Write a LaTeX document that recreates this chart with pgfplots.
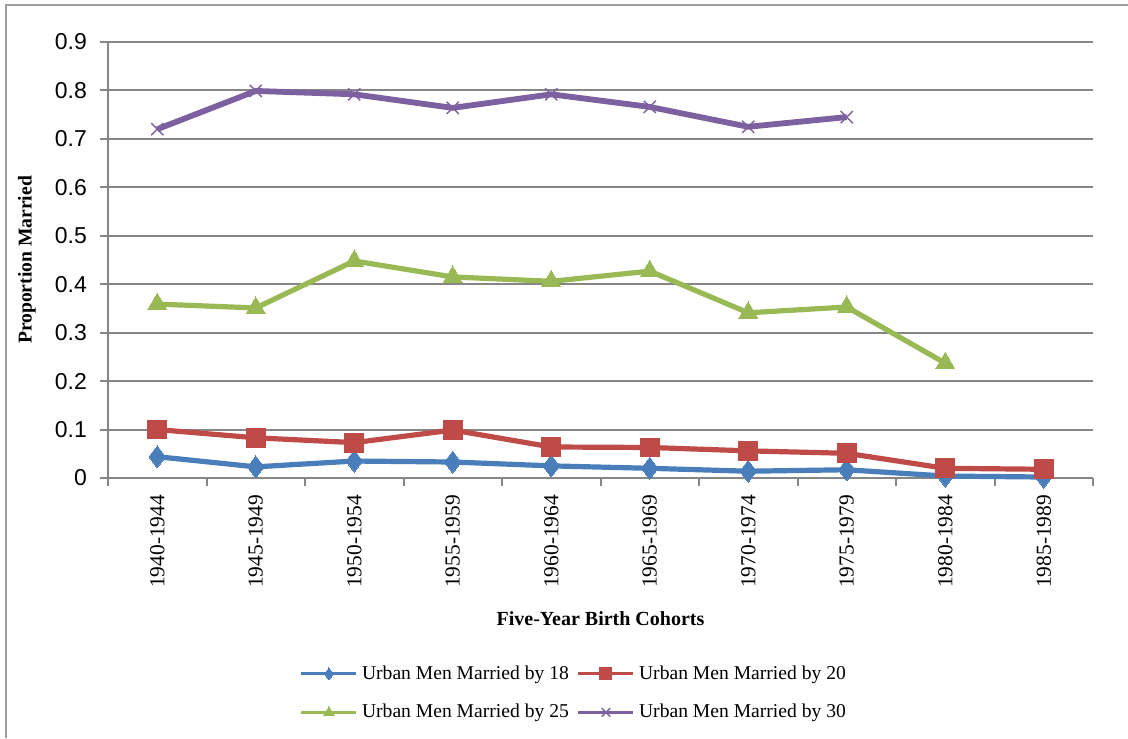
\documentclass[border=0pt]{standalone}
\usepackage{fontspec}
\setmainfont{Liberation Serif}
\newfontfamily\tickfont{Liberation Sans}
\newfontfamily\catfont{Liberation Serif}
\usepackage{pgfplots}
\pgfplotsset{compat=1.18}
\definecolor{cblue}{HTML}{4A7EBB}
\definecolor{cred}{HTML}{BE4B48}
\definecolor{cgreen}{HTML}{98B954}
\definecolor{cpurple}{HTML}{7D60A0}
\definecolor{cgrid}{HTML}{868686}
\begin{document}
\begin{tikzpicture}
\path[use as bounding box] (0,0) rectangle (564pt,369pt);
\draw[cgrid!80, line width=1.2pt] (3pt,0) -- (3pt,366.5pt) -- (564pt,366.5pt);
\begin{axis}[
  at={(54pt,130pt)}, anchor=south west,
  scale only axis,
  width=492.5pt, height=218pt,
  xmin=-0.5, xmax=9.5,
  ymin=0, ymax=0.9,
  ytick={0,0.1,...,0.9},
  yticklabel style={/pgf/number format/fixed,/pgf/number format/precision=1, font=\tickfont\fontsize{11.5}{12}\selectfont, xshift=-3pt},
  /pgf/number format/assume math mode=true,
  xtick={-0.5,0.5,...,9.5},
  x tick label as interval,
  xticklabels={{\catfont 1940-1944},{\catfont 1945-1949},{\catfont 1950-1954},{\catfont 1955-1959},{\catfont 1960-1964},{\catfont 1965-1969},{\catfont 1970-1974},{\catfont 1975-1979},{\catfont 1980-1984},{\catfont 1985-1989}},
  xticklabel style={rotate=90, anchor=east, font=\catfont\fontsize{10.7}{11}\selectfont, xshift=-1pt},
  axis x line*=bottom, axis y line*=left,
  axis line style={cgrid, line width=1pt, -},
  tick style={cgrid, line width=1pt},
  tick align=outside,
  major tick length=4pt,
  ymajorgrids, grid style={cgrid, line width=1pt},
  every axis y label/.style={at={(rel axis cs:0,0.5)}, xshift=-40.5pt, rotate=90, anchor=center, font=\rmfamily\bfseries\fontsize{9.8}{10}\selectfont},
  every axis x label/.style={at={(rel axis cs:0.5,0)}, yshift=-70.5pt, anchor=center, font=\rmfamily\bfseries\fontsize{10}{10}\selectfont},
  ylabel={Proportion Married},
  xlabel={Five-Year Birth Cohorts},
  legend columns=2,
  legend style={at={(axis description cs:0.474,-0.4935)}, anchor=center, draw=none, fill=none,
    font=\rmfamily\fontsize{9.8}{10}\selectfont, row sep=7pt, column sep=0pt,
    /tikz/every even column/.append style={column sep=2pt}},
  legend cell align=left,
  legend image code/.code={\draw[mark repeat=2,mark phase=2, line width=1.6pt, mark size=3pt] plot coordinates {(0pt,0pt)(13.75pt,0pt)(27.5pt,0pt)};},
  clip=false,
]
\addplot[cblue, line width=2.6pt, mark=diamond*, mark size=5.5pt, mark options={solid, line width=0pt, fill=cblue}]
  coordinates {(0,0.044)(1,0.023)(2,0.035)(3,0.033)(4,0.025)(5,0.020)(6,0.014)(7,0.017)(8,0.004)(9,0.002)};
\addlegendentry{Urban Men Married by 18}
\addplot[cred, line width=2.6pt, mark=square*, mark size=4.7pt, mark options={solid, line width=0pt, fill=cred}]
  coordinates {(0,0.100)(1,0.083)(2,0.073)(3,0.099)(4,0.064)(5,0.063)(6,0.056)(7,0.051)(8,0.020)(9,0.018)};
\addlegendentry{Urban Men Married by 20}
\addplot[cgreen, line width=2.6pt, mark=triangle*, mark size=5.5pt, mark options={solid, line width=0pt, fill=cgreen}]
  coordinates {(0,0.359)(1,0.351)(2,0.448)(3,0.415)(4,0.406)(5,0.427)(6,0.341)(7,0.353)(8,0.237)};
\addlegendentry{Urban Men Married by 25}
\addplot[cpurple, line width=2.9pt, mark=x, mark size=4.3pt, mark options={solid, line width=0.7pt}]
  coordinates {(0,0.720)(1,0.799)(2,0.792)(3,0.764)(4,0.792)(5,0.766)(6,0.725)(7,0.745)};
\addlegendentry{Urban Men Married by 30}
\end{axis}
\end{tikzpicture}
\end{document}
